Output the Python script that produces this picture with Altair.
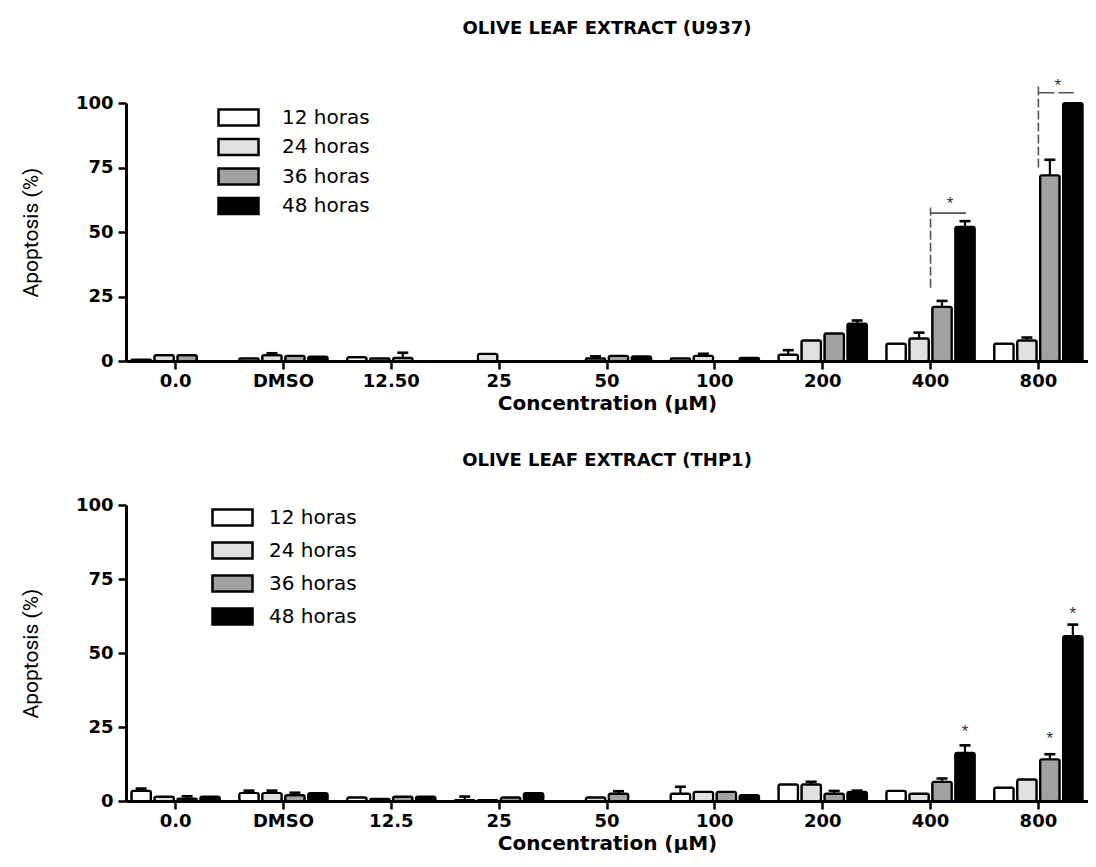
import altair as alt
import pandas as pd

# ---------------- data ----------------
series = ["12 horas", "24 horas", "36 horas", "48 horas"]
fill_colors = ["#ffffff", "#e0e0e0", "#a2a2a2", "#000000"]

cats_u937 = ["0.0", "DMSO", "12.50", "25", "50", "100", "200", "400", "800"]
u937_12 = [0.5, 1.0, 1.5, 0.0, 0.0, 1.0, 2.5, 6.7, 6.7]
u937_24 = [2.3, 2.3, 1.0, 2.8, 1.0, 2.0, 8.0, 8.8, 8.0]
u937_36 = [2.3, 2.0, 1.2, 0.0, 2.0, 0.0, 10.7, 21.0, 72.0]
u937_48 = [0.0, 1.7, 0.0, 0.0, 1.8, 1.2, 14.5, 52.0, 100.0]
u937_err12 = [0, 0, 0, 0, 0, 0, 1.7, 0, 0]
u937_err24 = [0, 0.7, 0, 0, 0.8, 0.8, 0, 2.2, 1.1]
u937_err36 = [0, 0, 2.0, 0, 0, 0, 0, 2.3, 6.0]
u937_err48 = [0, 0, 0, 0, 0, 0, 1.2, 2.2, 0]

cats_thp1 = ["0.0", "DMSO", "12.5", "25", "50", "100", "200", "400", "800"]
thp1_12 = [3.4, 2.7, 1.2, 0.3, 0.0, 2.5, 5.6, 3.4, 4.5]
thp1_24 = [1.5, 2.7, 0.7, 0.3, 1.2, 3.1, 5.6, 2.5, 7.3]
thp1_36 = [0.8, 2.0, 1.5, 1.2, 2.5, 3.1, 2.5, 6.5, 14.1]
thp1_48 = [1.5, 2.7, 1.5, 2.7, 0.0, 2.0, 3.1, 16.3, 55.7]
thp1_err12 = [0.8, 0.8, 0, 1.2, 0, 2.3, 0, 0, 0]
thp1_err24 = [0, 0.8, 0, 0, 0, 0, 0.9, 0, 0]
thp1_err36 = [0.8, 0.8, 0, 0, 0.8, 0, 0.9, 1.1, 1.7]
thp1_err48 = [0, 0, 0, 0, 0, 0, 0.4, 2.5, 3.9]

# significance brackets (U937)
br_conc = ["400", "800"]
br_low = [28.4, 75.0]
br_high = [59.5, 107.4]
br_bar = [57.3, 104.0]
br_dash = ["solid", "dashed"]
br_star = [62.3, 108.3]

# stars (THP1)
star_conc = ["400", "800", "800"]
star_hora = ["48 horas", "36 horas", "48 horas"]
star_y = [24.7, 22.2, 64.4]

X_TITLE = "Concentration (µM)"
Y_TITLE = "Apoptosis (%)"


def long_df(cats, vals, errs):
    rows = []
    for s, vs, es in zip(series, vals, errs):
        for c, v, e in zip(cats, vs, es):
            rows.append({"conc": c, "hora": s, "val": v, "err": e, "top": v + e})
    return pd.DataFrame(rows)


def panel(df, cats, title, height, legend_x, legend_y, row_pad, label_off,
          title_offset, extra_layers):
    xenc = alt.X("conc:N", sort=cats, title=X_TITLE,
                 scale=alt.Scale(paddingInner=0.18, paddingOuter=0.05),
                 axis=alt.Axis(labelAngle=0))
    xo = alt.XOffset("hora:N", sort=series,
                     scale=alt.Scale(paddingInner=0.15, paddingOuter=0))
    yenc = alt.Y("val:Q", title=Y_TITLE,
                 scale=alt.Scale(domain=[0, 100], nice=False),
                 axis=alt.Axis(values=[0, 25, 50, 75, 100]))

    bars = alt.Chart(df[df.val > 0]).mark_bar(
        stroke="black", strokeWidth=2.2, cornerRadius=2
    ).encode(
        x=xenc, xOffset=xo, y=yenc,
        fill=alt.Fill("hora:N", sort=series,
                      scale=alt.Scale(domain=series, range=fill_colors),
                      legend=alt.Legend(
                          title=None, orient="none",
                          legendX=legend_x, legendY=legend_y,
                          symbolType="M-2,-0.8L2,-0.8L2,0.8L-2,0.8Z",
                          symbolSize=400, symbolStrokeColor="black",
                          symbolStrokeWidth=2.5, symbolOpacity=1,
                          labelFont="DejaVu Sans", labelFontSize=20,
                          labelColor="black", labelOffset=label_off,
                          rowPadding=row_pad, padding=0)),
    )
    edf = df[df.err > 0]
    err_rule = alt.Chart(edf).mark_rule(color="black", strokeWidth=2.2).encode(
        x=alt.X("conc:N", sort=cats, title=X_TITLE), xOffset=xo,
        y=alt.Y("val:Q", title=Y_TITLE), y2="top:Q")
    err_cap = alt.Chart(edf).mark_tick(
        color="black", thickness=2.6, size=11, orient="horizontal", opacity=1
    ).encode(
        x=alt.X("conc:N", sort=cats, title=X_TITLE), xOffset=xo,
        y=alt.Y("top:Q", title=Y_TITLE))

    layers = [bars, err_rule, err_cap] + extra_layers(cats, xo)
    return alt.layer(*layers).properties(
        width=962, height=height,
        title=alt.TitleParams(title, frame="group", offset=title_offset,
                              font="DejaVu Sans", fontSize=18,
                              fontWeight="bold", color="black",
                              anchor="middle"),
    )


def u937_extra(cats, xo):
    bdf = pd.DataFrame({"conc": br_conc, "low": br_low, "high": br_high,
                        "bar": br_bar, "dash": br_dash, "star": br_star})
    vert = alt.Chart(bdf).mark_rule(color="#555555", strokeWidth=1.6,
                                    strokeDash=[9, 3]).encode(
        x=alt.X("conc:N", sort=cats, title=X_TITLE),
        y=alt.Y("low:Q", title=Y_TITLE), y2="high:Q")
    horiz = alt.Chart(bdf).mark_rule(color="#555555", strokeWidth=1.6).encode(
        x=alt.X("conc:N", sort=cats, title=X_TITLE, bandPosition=0.5),
        x2=alt.X2("conc", bandPosition=0.9),
        y=alt.Y("bar:Q", title=Y_TITLE),
        strokeDash=alt.StrokeDash("dash:N", legend=None,
                                  scale=alt.Scale(domain=["solid", "dashed"],
                                                  range=[[1, 0], [16, 4]])))
    star = alt.Chart(bdf).mark_text(text="*", fontSize=17, font="Liberation Sans",
                                    color="#333333", baseline="middle", dy=4).encode(
        x=alt.X("conc:N", sort=cats, title=X_TITLE, bandPosition=0.72),
        y=alt.Y("star:Q", title=Y_TITLE))
    return [vert, horiz, star]


def thp1_extra(cats, xo):
    sdf = pd.DataFrame({"conc": star_conc, "hora": star_hora, "ys": star_y})
    star = alt.Chart(sdf).mark_text(text="*", fontSize=17, font="Liberation Sans",
                                    color="#333333", baseline="middle", dy=4).encode(
        x=alt.X("conc:N", sort=cats, title=X_TITLE), xOffset=xo,
        y=alt.Y("ys:Q", title=Y_TITLE))
    return [star]


df_u = long_df(cats_u937,
               [u937_12, u937_24, u937_36, u937_48],
               [u937_err12, u937_err24, u937_err36, u937_err48])
df_t = long_df(cats_thp1,
               [thp1_12, thp1_24, thp1_36, thp1_48],
               [thp1_err12, thp1_err24, thp1_err36, thp1_err48])

top = panel(df_u, cats_u937, "OLIVE LEAF EXTRACT  (U937)", 258, 101, 3, 2.5, 32,
            39, u937_extra)
bottom = panel(df_t, cats_thp1, "OLIVE LEAF EXTRACT (THP1)", 296, 95, 1, 6, 25,
               26, thp1_extra)

chart = alt.vconcat(top, bottom, spacing=39).resolve_scale(
    fill="independent", strokeDash="independent"
).properties(
    padding={"top": 11, "left": 12, "right": 0, "bottom": 0}
).configure_view(stroke=None).configure_axis(
    domainColor="black", domainWidth=3, tickColor="black", tickWidth=2.5,
    tickSize=8, labelFont="DejaVu Sans", labelFontWeight="bold",
    labelFontSize=18, labelColor="black", grid=False, titleColor="black",
).configure_axisX(
    labelPadding=3, titleFont="DejaVu Sans", titleFontWeight="bold",
    titleFontSize=20, titlePadding=3,
).configure_axisY(
    labelPadding=5, titleFont="Roboto", titleFontWeight="normal",
    titleFontSize=21, titlePadding=34,
)

chart.save("out.html", embed_options={"renderer": "svg", "actions": False})
